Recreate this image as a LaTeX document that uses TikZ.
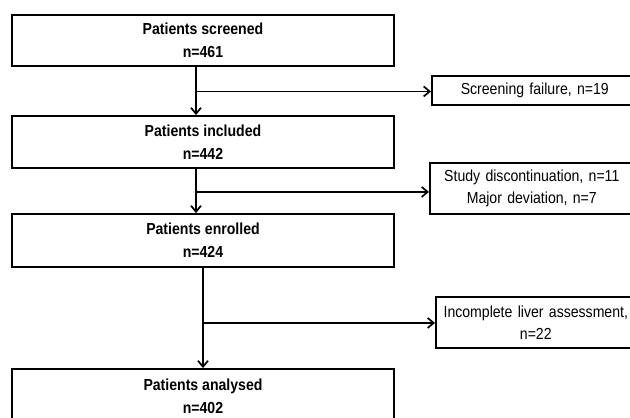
\documentclass[tikz,border=0pt]{standalone}
\usepackage{fontspec}
\setmainfont[FakeStretch=0.88]{Liberation Sans}
\usetikzlibrary{arrows.meta,calc}
\begin{document}
\begin{tikzpicture}[x=1pt,y=-1pt,
  mainbox/.style={draw,line width=1.9pt,minimum width=382pt,align=center,inner sep=0pt,
    font=\bfseries\fontsize{16}{23}\selectfont},
  sidebox/.style={draw,line width=1.6pt,align=center,inner sep=0pt,anchor=west,
    font=\fontsize{16}{22}\selectfont},
  flow/.style={line width=1.7pt,-{Straight Barb[length=6pt,width=10pt,line width=1.7pt]}},
  branch/.style={line width=1.7pt,-{Straight Barb[length=6pt,width=10pt,line width=1.7pt]}}]
\useasboundingbox (0,0) rectangle (630,418);
\clip (0,0) rectangle (630,418);
\fill[white] (0,0) rectangle (630,418);
\node[mainbox,minimum height=51pt] (b1) at (203,40.5) {Patients screened\\n=461};
\node[mainbox,minimum height=52pt] (b2) at (203,142) {Patients included\\n=442};
\node[mainbox,minimum height=53pt] (b3) at (203,240.5) {Patients enrolled\\n=424};
\node[mainbox,minimum height=54pt] (b4) at (203,396) {Patients analysed\\n=402};
\node[sidebox,minimum height=29pt,minimum width=206pt,text width=200pt] (s1) at (431,90.5) {Screening failure, n=19};
\node[sidebox,minimum height=51pt,minimum width=204pt,text width=198pt] (s2) at (429,188.5) {Study discontinuation, n=11\\Major deviation, n=7};
\node[sidebox,minimum height=51pt,minimum width=200pt,text width=194pt] (s3) at (435,322.5) {Incomplete liver assessment,\\n=22};
\coordinate (j1) at ($(b1.south)+(-7,24.5)$);
\coordinate (j2) at ($(b2.south)+(-7,23)$);
\coordinate (j3) at ($(b3.south)+(0,55)$);
\draw[flow] ([xshift=-7pt]b1.south) -- ([xshift=-7pt]b2.north);
\draw[flow] ([xshift=-7pt]b2.south) -- ([xshift=-7pt]b3.north);
\draw[flow] (b3.south) -- (b4.north);
\draw[branch] (j1) -- (j1 -| s1.west);
\draw[branch] (j2) -- (j2 -| s2.west);
\draw[branch] (j3) -- (j3 -| s3.west);
\end{tikzpicture}
\end{document}
